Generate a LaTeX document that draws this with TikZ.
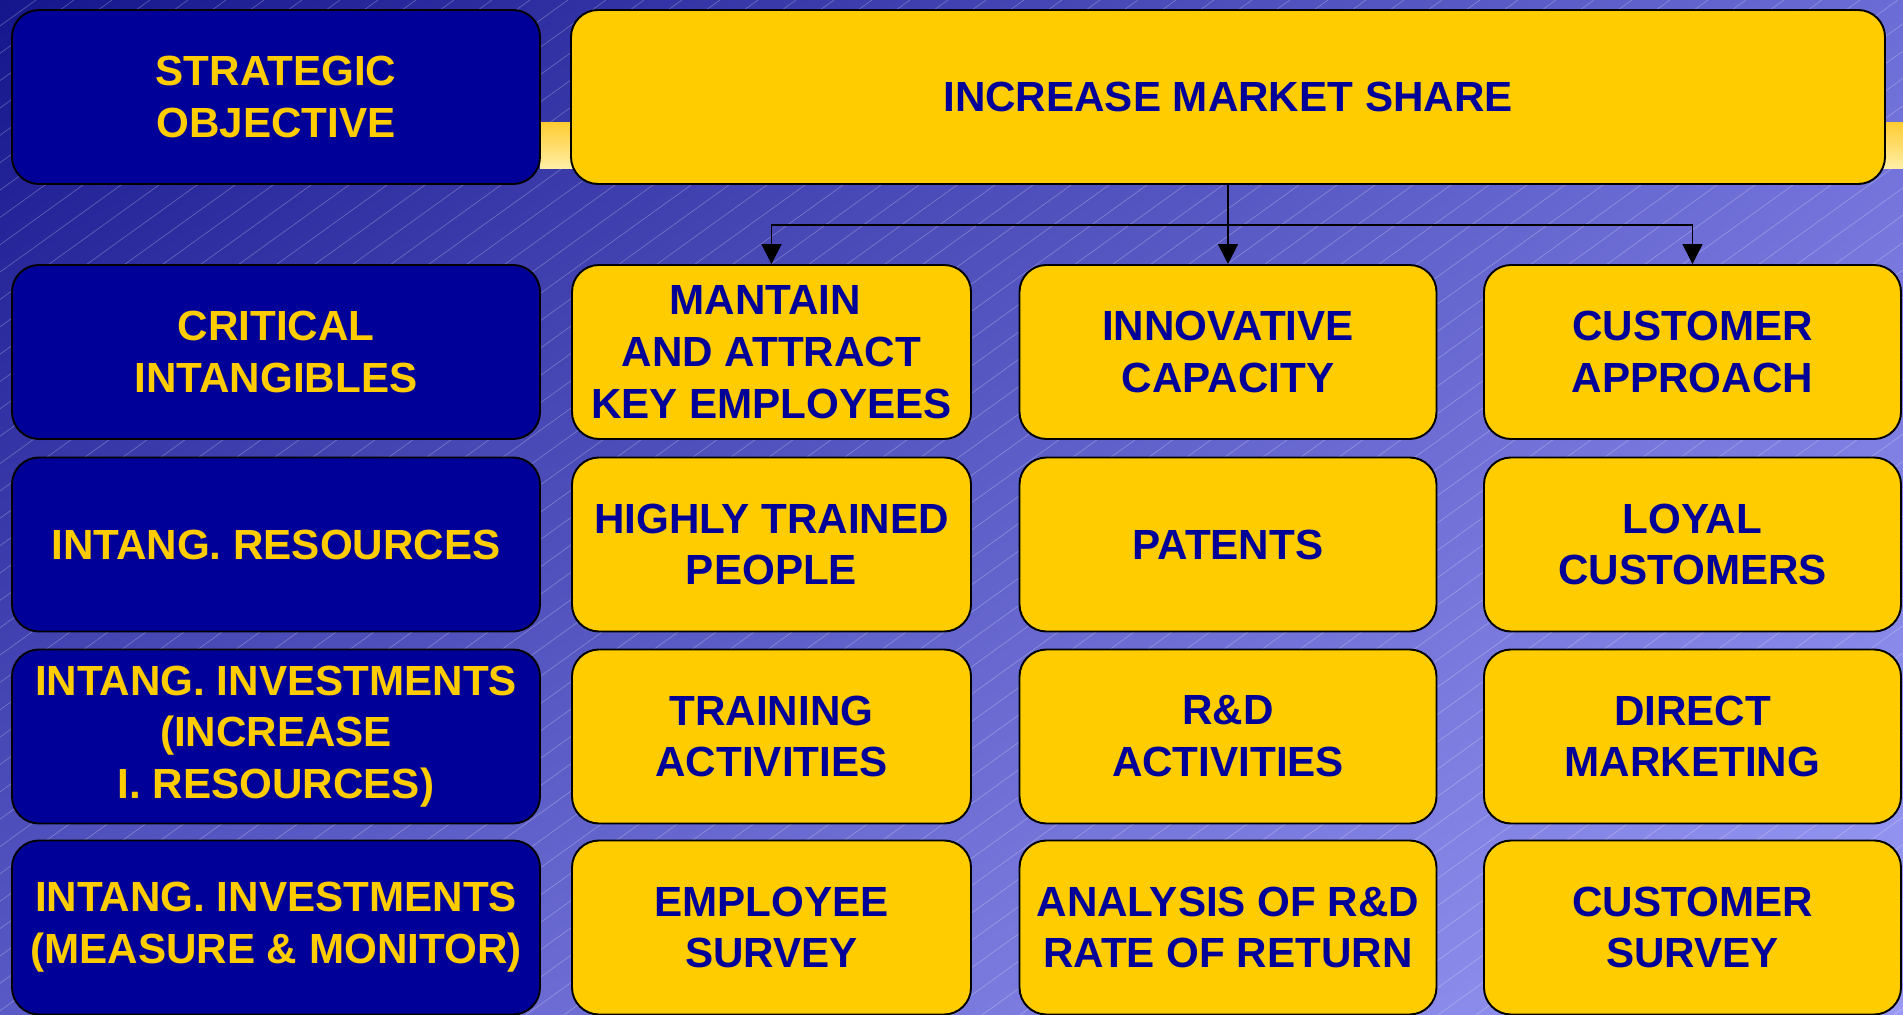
\documentclass[tikz,border=0pt]{standalone}
\usepackage{fontspec}
\setmainfont{Liberation Sans}
\usepackage{xcolor}
\usepackage{tikz}
\usetikzlibrary{arrows.meta,shadings}

\definecolor{headblue}{HTML}{000099}
\definecolor{boxyellow}{HTML}{FFCC00}
\definecolor{bgtl}{HTML}{16168C}
\definecolor{bgtr}{HTML}{6C6CD6}
\definecolor{bgbl}{HTML}{5A5AC6}
\definecolor{bgbr}{HTML}{9A9AF6}
\definecolor{smeartop}{HTML}{FFCC33}
\definecolor{smearbot}{HTML}{FFEFA8}

\begin{document}
\begin{tikzpicture}[
  rowhead/.style={draw=black,line width=1.1pt,fill=headblue,text=boxyellow,rounded corners=0.54cm,
    minimum height=3.48cm,minimum width=10.56cm,align=center,inner sep=0pt,
    font=\fontsize{24}{29.5}\selectfont\bfseries},
  cell/.style={draw=black,line width=1.1pt,fill=boxyellow,text=headblue,rounded corners=0.54cm,
    minimum height=3.48cm,minimum width=8.34cm,align=center,inner sep=0pt,
    font=\fontsize{24}{29.5}\selectfont\bfseries},
  link/.style={line width=0.9pt,-{Triangle[width=0.4cm,length=0.4cm]}}
]
  \useasboundingbox (0,0) rectangle (38.06,-20.3);

  % background
  \shade[upper left=bgtl,upper right=bgtr,lower left=bgbl,lower right=bgbr] (0,0) rectangle (38.06,-20.3);
  \begin{scope}
    \clip (0,0) rectangle (38.06,-20.3);
    \foreach \x in {-29,-28.24,...,38.5}
      \draw[white,opacity=0.25,line width=0.4pt] (\x,-20.3) -- ++(28.2,20.3);
  \end{scope}
  \shade[top color=smeartop,bottom color=smearbot] (10.8,-2.46) rectangle (38.06,-3.38);

  % row headings
  \node[rowhead] (so) at (5.52,-1.94)  {STRATEGIC\\OBJECTIVE};
  \node[rowhead] (ci) at (5.52,-7.04)  {CRITICAL\\INTANGIBLES};
  \node[rowhead] (ir) at (5.52,-10.89) {INTANG. RESOURCES};
  \node[rowhead] (ii) at (5.52,-14.73) {INTANG. INVESTMENTS\\(INCREASE\\I. RESOURCES)};
  \node[rowhead] (im) at (5.52,-18.55) {INTANG. INVESTMENTS\\(MEASURE \& MONITOR)};

  % objective
  \node[cell,minimum width=26.28cm] (market) at (24.56,-1.94) {INCREASE MARKET SHARE};

  % cells
  \node[cell,minimum width=7.98cm] (keyemp)   at (15.43,-7.04)  {MANTAIN\hspace*{0.3em}\\AND ATTRACT\\KEY EMPLOYEES};
  \node[cell]                      (innov)    at (24.56,-7.04)  {INNOVATIVE\\CAPACITY};
  \node[cell]                      (custapp)  at (33.85,-7.04)  {CUSTOMER\\APPROACH};

  \node[cell,minimum width=7.98cm] (trained)  at (15.43,-10.89) {HIGHLY TRAINED\\PEOPLE};
  \node[cell]                      (patents)  at (24.56,-10.89) {PATENTS};
  \node[cell]                      (loyal)    at (33.85,-10.89) {LOYAL\\CUSTOMERS};

  \node[cell,minimum width=7.98cm] (training) at (15.43,-14.73) {TRAINING\\ACTIVITIES};
  \node[cell]                      (rnd)      at (24.56,-14.73) {R\&D\\ACTIVITIES};
  \node[cell]                      (direct)   at (33.85,-14.73) {DIRECT\\MARKETING};

  \node[cell,minimum width=7.98cm] (empsurv)  at (15.43,-18.55) {EMPLOYEE\\SURVEY};
  \node[cell]                      (rndret)   at (24.56,-18.55) {ANALYSIS OF R\&D\\RATE OF RETURN};
  \node[cell]                      (custsurv) at (33.85,-18.55) {CUSTOMER\\SURVEY};

  % connectors
  \coordinate (split) at (24.56,-4.5);
  \draw[link] (market.south) -- (innov.north);
  \draw[link] (split) -| (keyemp.north);
  \draw[link] (split) -| (custapp.north);
\end{tikzpicture}
\end{document}
